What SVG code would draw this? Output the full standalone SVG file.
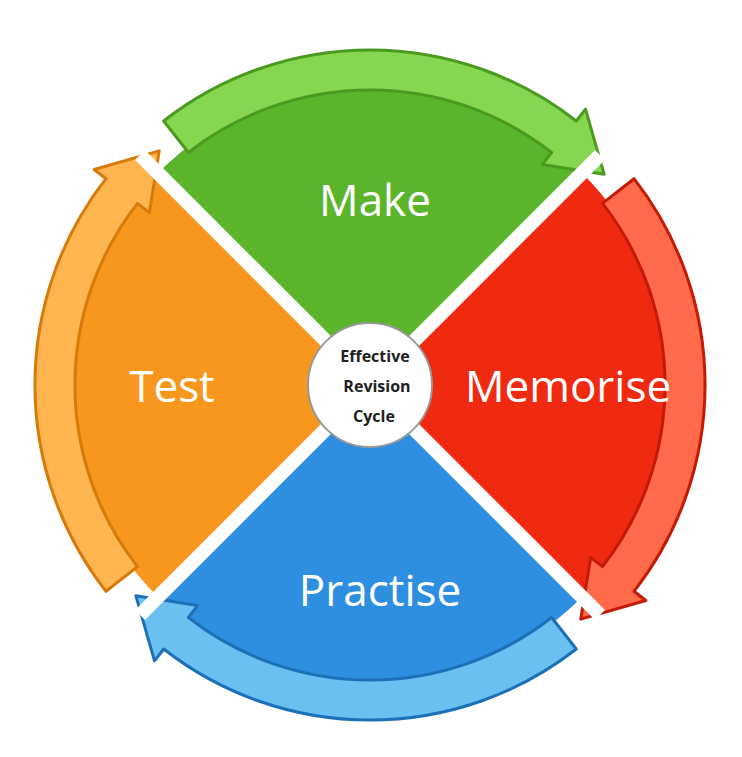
<svg xmlns="http://www.w3.org/2000/svg" width="742" height="757" viewBox="0 0 742 757">
<defs>
<style>
.lbl{font-family:"Open Sans","Liberation Sans",sans-serif;font-size:44px;fill:#fff;text-anchor:middle}
.c{font-family:"Open Sans","Liberation Sans",sans-serif;font-size:16px;font-weight:bold;fill:#222;text-anchor:middle}
</style>
<path id="band" d="M163.7 121 A335 335 0 0 1 576.3 121 L585.5 109.2 L604.1 174.2 L542.4 164.4 L551.6 152.5 A295 295 0 0 0 188.4 152.5 Z" stroke-width="3" stroke-linejoin="round"/>
</defs>
<rect width="742" height="757" fill="#fff"/>
<g id="make"><path d="M370 385 L157.9 172.9 A300 300 0 0 1 582.1 172.9 Z" fill="#5ab52a"/><use href="#band" fill="#86d650" stroke="#4a9a1f"/><text class="lbl" x="375" y="216">Make</text></g>
<g id="memorise"><path d="M370 385 L582.1 172.9 A300 300 0 0 1 582.1 597.1 Z" fill="#f02a10"/><use href="#band" transform="rotate(90 370 385)" fill="#ff6a4a" stroke="#c41a05"/><text class="lbl" x="568" y="402">Memorise</text></g>
<g id="practise"><path d="M370 385 L582.1 597.1 A300 300 0 0 1 157.9 597.1 Z" fill="#2e8fe0"/><use href="#band" transform="rotate(180 370 385)" fill="#6bc0f2" stroke="#1d70b8"/><text class="lbl" x="380" y="606">Practise</text></g>
<g id="test"><path d="M370 385 L157.9 597.1 A300 300 0 0 1 157.9 172.9 Z" fill="#f7971e"/><use href="#band" transform="rotate(270 370 385)" fill="#ffb550" stroke="#d77a0a"/><text class="lbl" x="172" y="402">Test</text></g>
<g id="connectors" stroke="#fff" stroke-width="14"><line x1="140" y1="155" x2="600" y2="615"/><line x1="600" y1="155" x2="140" y2="615"/></g>
<g id="center"><circle cx="370" cy="385" r="62" fill="#fff" stroke="#999" stroke-width="2"/><text class="c" x="375" y="362">Effective</text><text class="c" x="377" y="392">Revision</text><text class="c" x="374" y="422">Cycle</text></g>
</svg>
